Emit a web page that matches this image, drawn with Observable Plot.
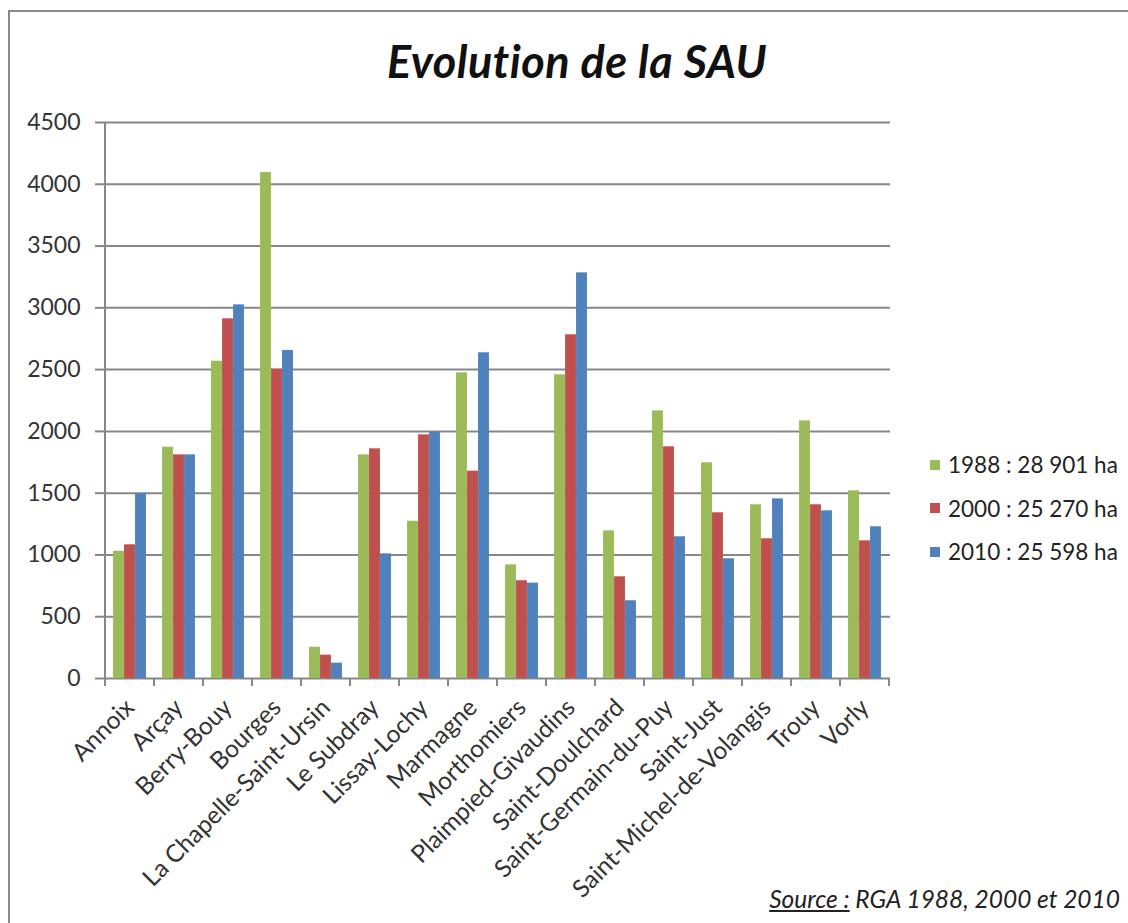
<!DOCTYPE html>
<html><head><meta charset="utf-8">
<script src="https://cdn.jsdelivr.net/npm/d3@7"></script>
<script src="https://cdn.jsdelivr.net/npm/@observablehq/plot@0.6"></script>
<style>
body{margin:0;background:#fff;}
#page{position:relative;width:1128px;height:923px;overflow:hidden;font-family:Lato,"Open Sans",sans-serif;background:#fff;}
#border{position:absolute;left:8px;top:10px;width:1200px;height:1000px;border:2px solid #8a8a8a;}
#title{position:absolute;left:0;width:1154px;top:34px;text-align:center;font-size:45px;font-weight:bold;font-style:italic;color:#111;line-height:54px;letter-spacing:0.5px;}
#chart{position:absolute;left:0;top:100px;}
#legend{position:absolute;left:930px;top:443px;font-size:22.5px;color:#222;}
.item{display:flex;align-items:center;height:43.5px;}
.sw{width:10px;height:10px;margin-right:8px;}
#source{position:absolute;right:8px;top:885px;font-size:24.5px;font-style:italic;color:#222;line-height:28px;}
#source u{text-decoration:underline;}
</style></head>
<body>
<div id="page">
  <div id="border"></div>
  <div id="title">Evolution de la SAU</div>
  <div id="chart"></div>
  <div id="legend"></div>
  <div id="source"><u>Source :</u> RGA 1988, 2000 et 2010</div>
</div>
<script>
const categories = ["Annoix","Arçay","Berry-Bouy","Bourges","La Chapelle-Saint-Ursin","Le Subdray","Lissay-Lochy","Marmagne","Morthomiers","Plaimpied-Givaudins","Saint-Doulchard","Saint-Germain-du-Puy","Saint-Just","Saint-Michel-de-Volangis","Trouy","Vorly"];
const v1988 = [1030,1872,2568,4095,253,1810,1273,2474,920,2458,1195,2166,1746,1406,2085,1519];
const v2000 = [1082,1810,2911,2503,189,1859,1972,1678,791,2782,823,1875,1341,1131,1406,1114];
const v2010 = [1495,1810,3024,2655,124,1009,1994,2636,772,3283,629,1147,969,1454,1357,1228];
const years = ["1988","2000","2010"];
const legendLabels = ["1988 : 28 901 ha","2000 : 25 270 ha","2010 : 25 598 ha"];
const colors = ["#9BBB59","#C0504D","#4F81BD"];
const yTicks = [0,500,1000,1500,2000,2500,3000,3500,4000,4500];

const series = [v1988, v2000, v2010];
const rows = [];
series.forEach((vals, k) => vals.forEach((v, i) => rows.push({commune: categories[i], year: years[k], value: v})));

const W = 1128, H = 823, mL = 104, mR = 238, mT = 22, mB = 245;
const bw = (W - mL - mR) / categories.length;
const barW = 11, groupOff = (bw - 3 * barW) / 2;

const barMarks = years.map((yr, k) => Plot.barY(rows.filter(d => d.year === yr), {
  x: "commune", y: "value", fill: colors[k],
  insetLeft: groupOff + k * barW,
  insetRight: bw - groupOff - (k + 1) * barW
}));

const plot = Plot.plot({
  width: W, height: H,
  marginLeft: mL, marginRight: mR, marginTop: mT, marginBottom: mB,
  style: {fontFamily: "Lato, 'Open Sans', sans-serif", fontSize: "22px", color: "#333", background: "transparent"},
  x: {domain: categories, padding: 0},
  y: {domain: [0, 4500]},
  marks: [
    Plot.ruleY(yTicks, {stroke: "#878787", strokeWidth: 2}),
    ...barMarks,
    Plot.axisY({ticks: yTicks, tickSize: 9, tickPadding: 15, stroke: "#878787", strokeWidth: 2, fill: "#333", fontSize: 23, label: null, tickFormat: d => String(d)}),
    Plot.axisX({tickSize: 0, tickPadding: 25, tickRotate: -45, fill: "#333", fontSize: 24.5, label: null})
  ]
});

// axis line and category boundary ticks (Excel style), placed with Plot's own scales
const xs = plot.scale("x"), ys = plot.scale("y");
const svg = d3.select(plot);
const y0 = ys.apply(0), yTop = ys.apply(4500);
const x0 = xs.apply(categories[0]);
const bounds = categories.map(c => xs.apply(c)).concat([xs.apply(categories[categories.length - 1]) + xs.bandwidth]);
const g = svg.append("g").attr("stroke", "#878787").attr("stroke-width", 2);
g.append("line").attr("x1", x0).attr("x2", x0).attr("y1", yTop).attr("y2", y0);
g.selectAll("line.b").data(bounds).join("line").attr("class", "b")
  .attr("x1", d => d).attr("x2", d => d).attr("y1", y0).attr("y2", y0 + 8);

document.getElementById("chart").appendChild(plot);

const legend = d3.select("#legend");
legendLabels.forEach((lab, k) => {
  const it = legend.append("div").attr("class", "item");
  it.append("div").attr("class", "sw").style("background", colors[k]);
  it.append("span").text(lab);
});
</script>
</body></html>
